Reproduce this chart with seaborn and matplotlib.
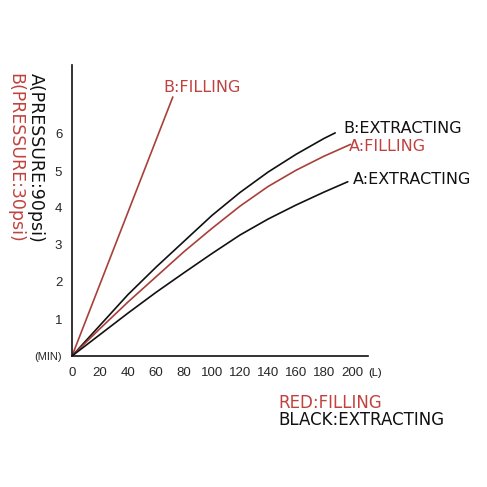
import matplotlib
matplotlib.use("Agg")
import matplotlib.pyplot as plt
import seaborn as sns
import pandas as pd

# ---- data ----
x_b_fill = [0, 72]
y_b_fill = [0.0, 7.0]

x_b_ext = [0, 20, 40, 60, 80, 100, 120, 140, 160, 180, 188]
y_b_ext = [0.0, 0.83, 1.66, 2.40, 3.10, 3.80, 4.42, 4.97, 5.45, 5.88, 6.03]

x_a_fill = [0, 20, 40, 60, 80, 100, 120, 140, 160, 180, 199]
y_a_fill = [0.0, 0.74, 1.46, 2.14, 2.82, 3.45, 4.05, 4.58, 5.02, 5.40, 5.72]

x_a_ext = [0, 20, 40, 60, 80, 100, 120, 140, 160, 180, 197]
y_a_ext = [0.0, 0.58, 1.16, 1.72, 2.25, 2.77, 3.27, 3.70, 4.08, 4.43, 4.71]

x_ticks = [0, 20, 40, 60, 80, 100, 120, 140, 160, 180, 200]
y_ticks = [0, 1, 2, 3, 4, 5, 6, 7]
y_ticklabels = ["(MIN)", "1", "2", "3", "4", "5", "6", ""]

series_names = ["B:FILLING", "B:EXTRACTING", "A:FILLING", "A:EXTRACTING"]

RED_LINE = "#a8403a"
RED_TEXT = "#c0423f"
BLACK = "#111111"

sns.set_style("white")
plt.rcParams["font.family"] = ["Liberation Sans", "DejaVu Sans"]
LABEL_FONT = ["DejaVu Sans"]

frames = []
for name, xs, ys in zip(series_names,
                        [x_b_fill, x_b_ext, x_a_fill, x_a_ext],
                        [y_b_fill, y_b_ext, y_a_fill, y_a_ext]):
    frames.append(pd.DataFrame({"L": xs, "MIN": ys, "series": name}))
df = pd.concat(frames, ignore_index=True)

palette = {"B:FILLING": RED_LINE, "B:EXTRACTING": BLACK,
           "A:FILLING": RED_LINE, "A:EXTRACTING": BLACK}

fig = plt.figure(figsize=(4.87, 4.87), dpi=100)
ax = fig.add_axes([72 / 487, 1 - 356 / 487, 296 / 487, 291 / 487])

sns.lineplot(data=df, x="L", y="MIN", hue="series", palette=palette,
             linewidth=1.2, legend=False, ax=ax, sort=False,
             estimator=None)

ax.set_xlim(0, 296 / 1.4)
ax.set_ylim(0, 291 / 37)
ax.set_xticks(x_ticks)
ax.set_xticklabels([str(v) for v in x_ticks], fontsize=9.5)
ax.set_yticks(y_ticks)
ax.set_yticklabels(y_ticklabels, fontsize=9.5)
for lab in ax.get_yticklabels():
    if lab.get_text() == "(MIN)":
        lab.set_fontsize(8)
ax.tick_params(axis="x", direction="inout", length=8, width=1.2,
               color=BLACK, pad=4)
ax.tick_params(axis="y", direction="out", length=5, width=1.2,
               color=BLACK, pad=2)
ax.set_xlabel("")
ax.set_ylabel("")
for s in ["top", "right"]:
    ax.spines[s].set_visible(False)
for s in ["left", "bottom"]:
    ax.spines[s].set_color(BLACK)
    ax.spines[s].set_linewidth(1.2)

# curve labels
lab_kw = dict(fontsize=11.5, va="center", ha="left", clip_on=False,
              family=LABEL_FONT)
ax.text(65, 7.27, "B:FILLING", color=RED_TEXT, **lab_kw)
ax.text(193.6, 6.16, "B:EXTRACTING", color=BLACK, **lab_kw)
ax.text(197.9, 5.65, "A:FILLING", color=RED_TEXT, **lab_kw)
ax.text(200.7, 4.76, "A:EXTRACTING", color=BLACK, **lab_kw)

# unit at end of x axis
fig.text(368 / 487, 1 - 373 / 487, "(L)", fontsize=8, va="center",
         ha="left", color=BLACK)

# rotated y labels
fig.text(36 / 487, 1 - 158 / 487, "A(PRESSURE:90psi)", rotation=270,
         fontsize=12.5, va="center", ha="center", color=BLACK,
         family=LABEL_FONT)
fig.text(15 / 487, 1 - 158 / 487, "B(PRESSURE:30psi)", rotation=270,
         fontsize=12.5, va="center", ha="center", color=RED_TEXT,
         family=LABEL_FONT)

# colour key
fig.text(278 / 487, 1 - 403 / 487, "RED:FILLING", fontsize=12,
         va="center", ha="left", color=RED_TEXT, family=LABEL_FONT)
fig.text(278 / 487, 1 - 420 / 487, "BLACK:EXTRACTING", fontsize=12,
         va="center", ha="left", color=BLACK, family=LABEL_FONT)

fig.savefig("out.png", dpi=100, facecolor="white")
